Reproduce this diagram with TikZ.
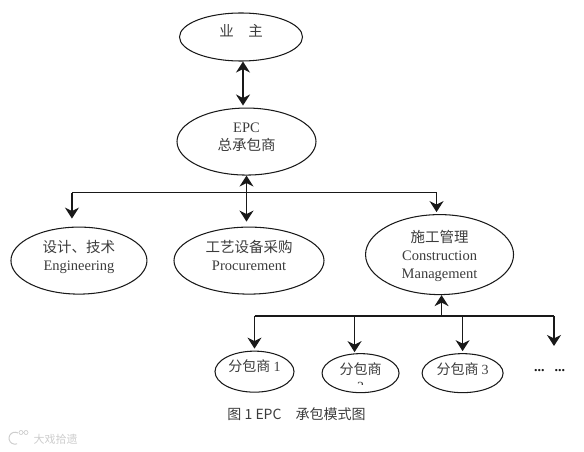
\documentclass[tikz,border=0pt]{standalone}
\usepackage{fontspec}
\setmainfont{Liberation Serif}
\newfontfamily\cjk{Noto Sans CJK SC}
\usepackage{xcolor}
\usetikzlibrary{positioning,arrows.meta,shapes.geometric,calc}
\definecolor{trazo}{RGB}{25,25,25}
\definecolor{gristexto}{RGB}{60,60,60}
\definecolor{marca}{RGB}{205,205,205}
\newcommand{\etiqueta}[2]{\raisebox{#1}[0pt][0pt]{\begin{tabular}{@{}c@{}}#2\end{tabular}}}

\begin{document}
\begin{tikzpicture}[
  parte/.style={ellipse, draw=trazo, line width=1.05pt, inner sep=0pt, align=center,
                text=gristexto, font=\fontsize{14.5}{18}\selectfont},
  subparte/.style={parte, font=\fontsize{14}{17}\selectfont},
  flecha/.style={-{Stealth[length=11pt,width=14pt,inset=3.5pt]}, line width=1.3pt, color=trazo},
  dobleflecha/.style={{Stealth[length=11pt,width=14pt,inset=3.5pt]}-{Stealth[length=11pt,width=14pt,inset=3.5pt]},
                      line width=1.3pt, color=trazo},
  barra/.style={line width=1.2pt, color=trazo}]
  \useasboundingbox (0,0) rectangle (584pt,-452pt);
  \node[parte, minimum width=123pt, minimum height=48pt] (yezhu) at (241pt,-37pt)
       {\etiqueta{0.5pt}{\cjk 业\quad 主}};
  \node[parte, minimum width=139pt, minimum height=67pt, below=46pt of yezhu, xshift=5.5pt] (epc)
       {\etiqueta{0.5pt}{EPC\\\cjk 总承包商}};
  \node[parte, minimum width=150pt, minimum height=67pt, below=51pt of epc, xshift=2.5pt] (caigou)
       {\etiqueta{-1pt}{\cjk 工艺设备采购\\Procurement}};
  \node[parte, minimum width=136pt, minimum height=67pt, left=26pt of caigou] (sheji)
       {\etiqueta{-1pt}{\cjk 设计、技术\\Engineering}};
  \node[parte, minimum width=148pt, minimum height=80pt, right=40.5pt of caigou, yshift=6pt] (shigong)
       {\etiqueta{-6pt}{\cjk 施工管理\\Construction\\Management}};
  \node[subparte, minimum width=77pt, minimum height=39pt, below=58pt of shigong, xshift=-79pt] (sub2) {};
  \node[subparte, minimum width=79pt, minimum height=41pt, left=27pt of sub2, yshift=1.5pt] (sub1)
       {\etiqueta{-0.5pt}{\cjk 分包商 \rmfamily 1}};
  \node[subparte, minimum width=81pt, minimum height=39pt, right=22pt of sub2] (sub3)
       {\etiqueta{-2pt}{\cjk 分包商 \rmfamily 3}};
  \begin{scope}
    \clip (sub2.west |- 0,-384pt) rectangle (sub2.east |- sub2.north);
    \node[font=\fontsize{14}{17}\selectfont, text=gristexto, align=center, below=6pt of sub2.north] (sub2txt)
         {\cjk 分包商\\2};
  \end{scope}
  \node[right=27pt of sub3, yshift=3pt, font=\bfseries\fontsize{14}{14}\selectfont, text=trazo] (puntos)
       {\textbf{...\hspace{10pt}...}};
  \node[font=\fontsize{14}{16}\selectfont, text=gristexto, anchor=center] (pie) at (296.5pt,-414.5pt)
       {\cjk 图 1 EPC\quad 承包模式图};
  \node[font=\fontsize{11}{13}\selectfont, text=marca, anchor=west] (marcaagua) at (30pt,-439pt)
       {\cjk 大戏拾遗};
  % logo of the mark
  \draw[marca, line width=1pt] (18pt,-433pt) arc (60:290:6pt);
  \draw[marca, line width=0.7pt] (21pt,-432.5pt) circle (2pt) (26pt,-432.5pt) circle (2pt);
  % buses
  \coordinate (b0) at ($(epc.south)+(0,-17pt)$);
  \coordinate (bi) at ([xshift=-7pt]sheji.north |- b0);
  \coordinate (bd) at ([xshift=-3pt]shigong.north |- b0);
  \coordinate (c0) at ([xshift=2pt]shigong.south |- 0,-316pt);
  \coordinate (ci) at (sub1.north |- c0);
  \coordinate (c2) at ([xshift=-6pt]sub2.north |- c0);
  \coordinate (c3) at (sub3.north |- c0);
  \coordinate (cd) at (554pt,-316pt);
  \coordinate (cdf) at (554pt,-346pt);
  \draw[dobleflecha] ([xshift=2pt]yezhu.south) -- ([xshift=2pt,yshift=2pt]yezhu.south |- epc.north);
  \draw[dobleflecha] (epc.south) -- ([yshift=5pt]epc.south |- caigou.north);
  \draw[barra] (bi) -- (bd);
  \draw[flecha] (bi) -- ([xshift=-7pt,yshift=8pt]sheji.north);
  \draw[flecha] (bd) -- ([xshift=-3pt,yshift=2pt]shigong.north);
  \draw[barra] (ci) -- (cd);
  \draw[flecha] (c0) -- ([xshift=2pt]shigong.south);
  \draw[flecha] (ci) -- ([yshift=2pt]sub1.north);
  \draw[flecha] (c2) -- ([xshift=-6pt,yshift=1pt]sub2.north);
  \draw[flecha] (c3) -- ([yshift=2pt]sub3.north);
  \draw[flecha] (cd) -- (cdf);
\end{tikzpicture}
\end{document}
